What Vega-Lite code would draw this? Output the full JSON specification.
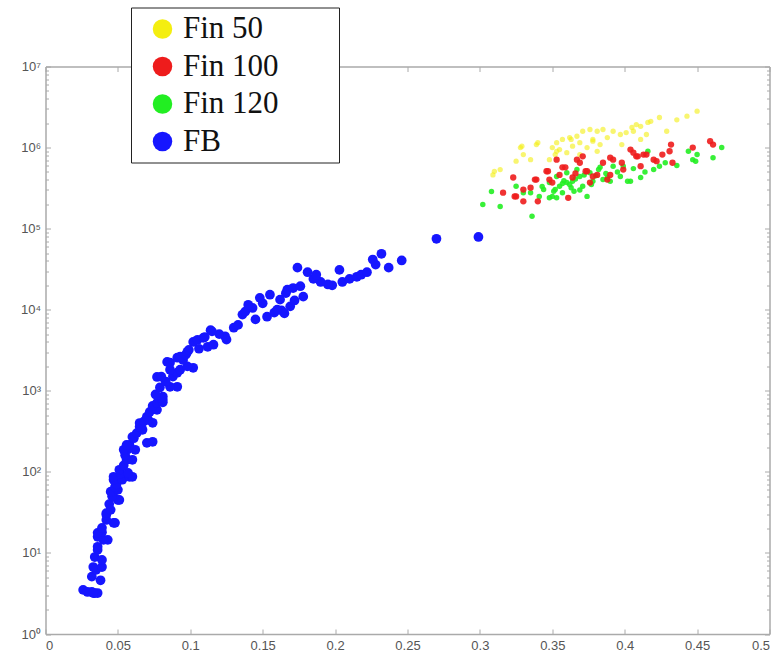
{
  "$schema": "https://vega.github.io/schema/vega-lite/v6.json",
  "autosize": {"type": "none"},
  "padding": {"left": 45.5, "top": 66.5, "right": 12.5, "bottom": 24},
  "width": 724,
  "height": 567.5,
  "background": "white",
  "config": {"view": {"stroke": null}},
  "datasets": {
    "pts": [
      {"s":"Fin 50","x":0.450,"y":2810000},{"s":"Fin 50","x":0.443,"y":2440000},{"s":"Fin 50","x":0.429,"y":1590000},{"s":"Fin 50","x":0.424,"y":2350000},{"s":"Fin 50","x":0.416,"y":2040000},{"s":"Fin 50","x":0.408,"y":1920000},{"s":"Fin 50","x":0.405,"y":1770000},{"s":"Fin 50","x":0.401,"y":1530000},{"s":"Fin 50","x":0.397,"y":1450000},{"s":"Fin 50","x":0.392,"y":1590000},{"s":"Fin 50","x":0.385,"y":1670000},{"s":"Fin 50","x":0.381,"y":1590000},{"s":"Fin 50","x":0.376,"y":1670000},{"s":"Fin 50","x":0.371,"y":1590000},{"s":"Fin 50","x":0.367,"y":1380000},{"s":"Fin 50","x":0.362,"y":1330000},{"s":"Fin 50","x":0.357,"y":1260000},{"s":"Fin 50","x":0.353,"y":1150000},{"s":"Fin 50","x":0.350,"y":1000000},{"s":"Fin 50","x":0.369,"y":1150000},{"s":"Fin 50","x":0.378,"y":1260000},{"s":"Fin 50","x":0.388,"y":1330000},{"s":"Fin 50","x":0.383,"y":1090000},{"s":"Fin 50","x":0.374,"y":1000000},{"s":"Fin 50","x":0.364,"y":1040000},{"s":"Fin 50","x":0.355,"y":945000},{"s":"Fin 50","x":0.352,"y":820000},{"s":"Fin 50","x":0.360,"y":866000},{"s":"Fin 50","x":0.369,"y":820000},{"s":"Fin 50","x":0.339,"y":1090000},{"s":"Fin 50","x":0.328,"y":1000000},{"s":"Fin 50","x":0.330,"y":820000},{"s":"Fin 50","x":0.325,"y":680000},{"s":"Fin 50","x":0.314,"y":535000},{"s":"Fin 50","x":0.309,"y":460000},{"s":"Fin 50","x":0.348,"y":710000},{"s":"Fin 50","x":0.406,"y":1590000},{"s":"Fin 50","x":0.411,"y":1260000},{"s":"Fin 50","x":0.398,"y":1090000},{"s":"Fin 50","x":0.381,"y":900000},{"s":"Fin 50","x":0.418,"y":2110000},{"s":"Fin 50","x":0.411,"y":1830000},{"s":"Fin 50","x":0.415,"y":1450000},{"s":"Fin 50","x":0.310,"y":510000},{"s":"Fin 50","x":0.329,"y":1040000},{"s":"Fin 50","x":0.340,"y":1150000},{"s":"Fin 50","x":0.353,"y":900000},{"s":"Fin 50","x":0.335,"y":710000},{"s":"Fin 50","x":0.378,"y":1200000},{"s":"Fin 50","x":0.363,"y":1260000},{"s":"Fin 50","x":0.436,"y":2200000},
      {"s":"Fin 120","x":0.467,"y":1000000},{"s":"Fin 120","x":0.461,"y":750000},{"s":"Fin 120","x":0.450,"y":820000},{"s":"Fin 120","x":0.444,"y":900000},{"s":"Fin 120","x":0.447,"y":710000},{"s":"Fin 120","x":0.449,"y":680000},{"s":"Fin 120","x":0.411,"y":427000},{"s":"Fin 120","x":0.404,"y":384000},{"s":"Fin 120","x":0.397,"y":440000},{"s":"Fin 120","x":0.388,"y":427000},{"s":"Fin 120","x":0.383,"y":570000},{"s":"Fin 120","x":0.376,"y":490000},{"s":"Fin 120","x":0.369,"y":440000},{"s":"Fin 120","x":0.364,"y":384000},{"s":"Fin 120","x":0.360,"y":370000},{"s":"Fin 120","x":0.355,"y":333000},{"s":"Fin 120","x":0.352,"y":303000},{"s":"Fin 120","x":0.350,"y":250000},{"s":"Fin 120","x":0.357,"y":278000},{"s":"Fin 120","x":0.363,"y":320000},{"s":"Fin 120","x":0.371,"y":333000},{"s":"Fin 120","x":0.378,"y":384000},{"s":"Fin 120","x":0.374,"y":250000},{"s":"Fin 120","x":0.344,"y":303000},{"s":"Fin 120","x":0.341,"y":250000},{"s":"Fin 120","x":0.335,"y":278000},{"s":"Fin 120","x":0.308,"y":288000},{"s":"Fin 120","x":0.302,"y":198000},{"s":"Fin 120","x":0.314,"y":188000},{"s":"Fin 120","x":0.336,"y":142000},{"s":"Fin 120","x":0.325,"y":333000},{"s":"Fin 120","x":0.416,"y":900000},{"s":"Fin 120","x":0.420,"y":535000},{"s":"Fin 120","x":0.424,"y":590000},{"s":"Fin 120","x":0.399,"y":590000},{"s":"Fin 120","x":0.392,"y":590000},{"s":"Fin 120","x":0.353,"y":440000},{"s":"Fin 120","x":0.348,"y":370000},{"s":"Fin 120","x":0.367,"y":535000},{"s":"Fin 120","x":0.360,"y":490000},{"s":"Fin 120","x":0.402,"y":384000},{"s":"Fin 120","x":0.385,"y":403000},{"s":"Fin 120","x":0.390,"y":384000},{"s":"Fin 120","x":0.348,"y":240000},{"s":"Fin 120","x":0.353,"y":240000},{"s":"Fin 120","x":0.382,"y":535000},{"s":"Fin 120","x":0.330,"y":278000},{"s":"Fin 120","x":0.343,"y":330000},{"s":"Fin 120","x":0.357,"y":360000},{"s":"Fin 120","x":0.366,"y":410000},{"s":"Fin 120","x":0.372,"y":460000},{"s":"Fin 120","x":0.380,"y":450000},{"s":"Fin 120","x":0.395,"y":500000},{"s":"Fin 120","x":0.406,"y":550000},{"s":"Fin 120","x":0.414,"y":500000},{"s":"Fin 120","x":0.428,"y":650000},{"s":"Fin 120","x":0.436,"y":600000},{"s":"Fin 120","x":0.365,"y":290000},{"s":"Fin 120","x":0.358,"y":390000},{"s":"Fin 120","x":0.351,"y":290000},{"s":"Fin 120","x":0.369,"y":300000},{"s":"Fin 120","x":0.377,"y":350000},{"s":"Fin 120","x":0.387,"y":480000},{"s":"Fin 120","x":0.362,"y":350000},
      {"s":"Fin 100","x":0.459,"y":1200000},{"s":"Fin 100","x":0.461,"y":1090000},{"s":"Fin 100","x":0.447,"y":1000000},{"s":"Fin 100","x":0.432,"y":1090000},{"s":"Fin 100","x":0.431,"y":900000},{"s":"Fin 100","x":0.426,"y":820000},{"s":"Fin 100","x":0.433,"y":650000},{"s":"Fin 100","x":0.420,"y":710000},{"s":"Fin 100","x":0.413,"y":820000},{"s":"Fin 100","x":0.408,"y":780000},{"s":"Fin 100","x":0.404,"y":945000},{"s":"Fin 100","x":0.406,"y":866000},{"s":"Fin 100","x":0.409,"y":780000},{"s":"Fin 100","x":0.415,"y":820000},{"s":"Fin 100","x":0.392,"y":710000},{"s":"Fin 100","x":0.390,"y":750000},{"s":"Fin 100","x":0.371,"y":780000},{"s":"Fin 100","x":0.367,"y":710000},{"s":"Fin 100","x":0.353,"y":710000},{"s":"Fin 100","x":0.357,"y":570000},{"s":"Fin 100","x":0.346,"y":510000},{"s":"Fin 100","x":0.339,"y":403000},{"s":"Fin 100","x":0.374,"y":510000},{"s":"Fin 100","x":0.381,"y":460000},{"s":"Fin 100","x":0.364,"y":427000},{"s":"Fin 100","x":0.335,"y":320000},{"s":"Fin 100","x":0.323,"y":427000},{"s":"Fin 100","x":0.316,"y":278000},{"s":"Fin 100","x":0.324,"y":250000},{"s":"Fin 100","x":0.330,"y":217000},{"s":"Fin 100","x":0.340,"y":217000},{"s":"Fin 100","x":0.361,"y":240000},{"s":"Fin 100","x":0.376,"y":370000},{"s":"Fin 100","x":0.388,"y":403000},{"s":"Fin 100","x":0.399,"y":535000},{"s":"Fin 100","x":0.411,"y":590000},{"s":"Fin 100","x":0.422,"y":680000},{"s":"Fin 100","x":0.390,"y":460000},{"s":"Fin 100","x":0.348,"y":403000},{"s":"Fin 100","x":0.338,"y":403000},{"s":"Fin 100","x":0.347,"y":510000},{"s":"Fin 100","x":0.359,"y":570000},{"s":"Fin 100","x":0.373,"y":510000},{"s":"Fin 100","x":0.378,"y":440000},{"s":"Fin 100","x":0.350,"y":370000},{"s":"Fin 100","x":0.325,"y":250000},{"s":"Fin 100","x":0.330,"y":303000},{"s":"Fin 100","x":0.369,"y":650000},{"s":"Fin 100","x":0.355,"y":460000},{"s":"Fin 100","x":0.398,"y":650000},{"s":"Fin 100","x":0.385,"y":650000},{"s":"Fin 100","x":0.366,"y":480000},
      {"s":"FB","x":0.026,"y":3.5},{"s":"FB","x":0.032,"y":3.3},{"s":"FB","x":0.034,"y":3.2},{"s":"FB","x":0.036,"y":3.2},{"s":"FB","x":0.029,"y":3.3},{"s":"FB","x":0.033,"y":3.2},{"s":"FB","x":0.038,"y":4.6},{"s":"FB","x":0.032,"y":5.1},{"s":"FB","x":0.035,"y":6.2},{"s":"FB","x":0.033,"y":6.7},{"s":"FB","x":0.039,"y":6.7},{"s":"FB","x":0.034,"y":8.9},{"s":"FB","x":0.039,"y":8.2},{"s":"FB","x":0.036,"y":10.9},{"s":"FB","x":0.036,"y":11.9},{"s":"FB","x":0.043,"y":14.5},{"s":"FB","x":0.040,"y":14.5},{"s":"FB","x":0.036,"y":15.8},{"s":"FB","x":0.039,"y":18},{"s":"FB","x":0.036,"y":17.7},{"s":"FB","x":0.039,"y":20.4},{"s":"FB","x":0.047,"y":23.5},{"s":"FB","x":0.048,"y":23.5},{"s":"FB","x":0.042,"y":25.5},{"s":"FB","x":0.042,"y":29.5},{"s":"FB","x":0.042,"y":31},{"s":"FB","x":0.045,"y":34},{"s":"FB","x":0.044,"y":40},{"s":"FB","x":0.051,"y":45},{"s":"FB","x":0.050,"y":45},{"s":"FB","x":0.047,"y":49},{"s":"FB","x":0.046,"y":50},{"s":"FB","x":0.045,"y":57},{"s":"FB","x":0.050,"y":60},{"s":"FB","x":0.048,"y":65},{"s":"FB","x":0.049,"y":70},{"s":"FB","x":0.047,"y":80},{"s":"FB","x":0.053,"y":80},{"s":"FB","x":0.058,"y":87},{"s":"FB","x":0.047,"y":87},{"s":"FB","x":0.060,"y":87},{"s":"FB","x":0.052,"y":95},{"s":"FB","x":0.057,"y":97},{"s":"FB","x":0.051,"y":106},{"s":"FB","x":0.054,"y":120},{"s":"FB","x":0.056,"y":141},{"s":"FB","x":0.060,"y":141},{"s":"FB","x":0.055,"y":160},{"s":"FB","x":0.062,"y":187},{"s":"FB","x":0.057,"y":190},{"s":"FB","x":0.054,"y":187},{"s":"FB","x":0.058,"y":215},{"s":"FB","x":0.056,"y":215},{"s":"FB","x":0.070,"y":228},{"s":"FB","x":0.074,"y":235},{"s":"FB","x":0.061,"y":260},{"s":"FB","x":0.060,"y":270},{"s":"FB","x":0.063,"y":300},{"s":"FB","x":0.067,"y":330},{"s":"FB","x":0.065,"y":359},{"s":"FB","x":0.066,"y":370},{"s":"FB","x":0.074,"y":403},{"s":"FB","x":0.065,"y":400},{"s":"FB","x":0.068,"y":420},{"s":"FB","x":0.071,"y":438},{"s":"FB","x":0.070,"y":480},{"s":"FB","x":0.072,"y":550},{"s":"FB","x":0.077,"y":582},{"s":"FB","x":0.074,"y":650},{"s":"FB","x":0.077,"y":710},{"s":"FB","x":0.081,"y":720},{"s":"FB","x":0.081,"y":774},{"s":"FB","x":0.081,"y":850},{"s":"FB","x":0.076,"y":900},{"s":"FB","x":0.079,"y":1100},{"s":"FB","x":0.091,"y":1120},{"s":"FB","x":0.086,"y":1120},{"s":"FB","x":0.083,"y":1300},{"s":"FB","x":0.077,"y":1480},{"s":"FB","x":0.080,"y":1490},{"s":"FB","x":0.088,"y":1500},{"s":"FB","x":0.091,"y":1670},{"s":"FB","x":0.086,"y":1820},{"s":"FB","x":0.093,"y":1820},{"s":"FB","x":0.102,"y":1920},{"s":"FB","x":0.098,"y":2000},{"s":"FB","x":0.086,"y":2220},{"s":"FB","x":0.084,"y":2270},{"s":"FB","x":0.095,"y":2400},{"s":"FB","x":0.091,"y":2560},{"s":"FB","x":0.093,"y":2630},{"s":"FB","x":0.097,"y":2800},{"s":"FB","x":0.098,"y":3030},{"s":"FB","x":0.099,"y":3200},{"s":"FB","x":0.106,"y":3300},{"s":"FB","x":0.112,"y":3490},{"s":"FB","x":0.116,"y":3700},{"s":"FB","x":0.102,"y":4000},{"s":"FB","x":0.105,"y":4260},{"s":"FB","x":0.125,"y":4270},{"s":"FB","x":0.109,"y":4500},{"s":"FB","x":0.110,"y":4600},{"s":"FB","x":0.124,"y":4700},{"s":"FB","x":0.120,"y":5000},{"s":"FB","x":0.114,"y":5600},{"s":"FB","x":0.115,"y":5400},{"s":"FB","x":0.130,"y":6000},{"s":"FB","x":0.133,"y":6500},{"s":"FB","x":0.145,"y":7600},{"s":"FB","x":0.153,"y":8200},{"s":"FB","x":0.136,"y":8700},{"s":"FB","x":0.165,"y":9000},{"s":"FB","x":0.158,"y":9200},{"s":"FB","x":0.138,"y":9500},{"s":"FB","x":0.163,"y":9800},{"s":"FB","x":0.160,"y":10000},{"s":"FB","x":0.143,"y":10500},{"s":"FB","x":0.169,"y":11000},{"s":"FB","x":0.140,"y":11500},{"s":"FB","x":0.150,"y":12000},{"s":"FB","x":0.172,"y":13000},{"s":"FB","x":0.162,"y":13300},{"s":"FB","x":0.148,"y":14000},{"s":"FB","x":0.178,"y":14500},{"s":"FB","x":0.155,"y":15300},{"s":"FB","x":0.166,"y":16000},{"s":"FB","x":0.167,"y":17700},{"s":"FB","x":0.171,"y":18500},{"s":"FB","x":0.176,"y":19500},{"s":"FB","x":0.198,"y":20000},{"s":"FB","x":0.195,"y":20500},{"s":"FB","x":0.205,"y":22000},{"s":"FB","x":0.190,"y":22000},{"s":"FB","x":0.185,"y":24000},{"s":"FB","x":0.210,"y":24000},{"s":"FB","x":0.215,"y":25500},{"s":"FB","x":0.187,"y":27000},{"s":"FB","x":0.218,"y":27000},{"s":"FB","x":0.181,"y":29000},{"s":"FB","x":0.222,"y":29000},{"s":"FB","x":0.203,"y":31000},{"s":"FB","x":0.174,"y":33000},{"s":"FB","x":0.237,"y":33000},{"s":"FB","x":0.228,"y":36000},{"s":"FB","x":0.246,"y":40500},{"s":"FB","x":0.226,"y":41600},{"s":"FB","x":0.232,"y":49000},{"s":"FB","x":0.270,"y":75000},{"s":"FB","x":0.299,"y":79000}
    ]
  },
  "data": {"name": "pts"},
  "resolve": {"axis": {"x": "independent", "y": "independent"}},
  "layer": [
    {
      "layer": [
        {
          "transform": [{"filter": "datum.s === 'Fin 50'"}],
          "mark": {"type": "point", "filled": true, "shape": "circle", "strokeWidth": 0, "size": 28, "opacity": 0.6}
        },
        {
          "transform": [{"filter": "datum.s === 'Fin 120'"}],
          "mark": {"type": "point", "filled": true, "shape": "circle", "strokeWidth": 0, "size": 30, "opacity": 0.9}
        },
        {
          "transform": [{"filter": "datum.s === 'Fin 100'"}],
          "mark": {"type": "point", "filled": true, "shape": "circle", "strokeWidth": 0, "size": 40, "opacity": 0.9}
        },
        {
          "transform": [{"filter": "datum.s === 'FB'"}],
          "mark": {"type": "point", "filled": true, "shape": "circle", "strokeWidth": 0, "size": 95, "opacity": 1}
        }
      ],
      "encoding": {
        "x": {
          "field": "x", "type": "quantitative",
          "scale": {"domain": [0, 0.5], "nice": false, "zero": false},
          "axis": {
            "orient": "bottom", "title": null, "grid": false,
            "values": [0, 0.05, 0.1, 0.15, 0.2, 0.25, 0.3, 0.35, 0.4, 0.45, 0.5],
            "labelExpr": "'' + datum.value",
            "labelFont": "Liberation Sans", "labelFontSize": 13, "labelColor": "#555",
            "domainColor": "#aaa", "domainWidth": 1.5, "tickColor": "#aaa", "tickWidth": 1,
            "tickSize": -5, "labelPadding": 10, "labelOverlap": false
          }
        },
        "y": {
          "field": "y", "type": "quantitative",
          "scale": {"type": "log", "domain": [1, 10000000], "nice": false},
          "axis": {
            "orient": "left", "title": null, "grid": false,
            "values": [1,2,3,4,5,6,7,8,9,10,20,30,40,50,60,70,80,90,100,200,300,400,500,600,700,800,900,1000,2000,3000,4000,5000,6000,7000,8000,9000,10000,20000,30000,40000,50000,60000,70000,80000,90000,100000,200000,300000,400000,500000,600000,700000,800000,900000,1000000,2000000,3000000,4000000,5000000,6000000,7000000,8000000,9000000,10000000],
            "labelExpr": "abs(log(datum.value)/LN10 - round(log(datum.value)/LN10)) < 0.000001 ? '10' + ['⁰','¹','²','³','⁴','⁵','⁶','⁷'][round(log(datum.value)/LN10)] : ''",
            "labelFont": "Liberation Sans", "labelFontSize": 13, "labelColor": "#555",
            "domainColor": "#aaa", "domainWidth": 1.5, "tickColor": "#aaa", "tickWidth": 1,
            "tickSize": {"condition": {"test": "abs(log(datum.value)/LN10 - round(log(datum.value)/LN10)) < 0.000001", "value": -5}, "value": -3},
            "labelPadding": 10, "labelOverlap": false
          }
        },
        "color": {
          "field": "s", "type": "nominal",
          "scale": {"domain": ["Fin 50", "Fin 100", "Fin 120", "FB"], "range": ["#f4ee10", "#ee1c1c", "#22ee22", "#1616ff"]},
          "legend": {
            "orient": "none", "legendX": 85.5, "legendY": -59, "title": null,
            "labelFont": "Liberation Serif", "labelFontSize": 31, "labelColor": "#111",
            "labelExpr": "datum.label + '\u00a0\u00a0\u00a0\u00a0\u00a0\u00a0\u00a0\u200b'",
            "symbolType": "circle", "symbolSize": 380, "symbolStrokeWidth": 0, "symbolOpacity": 1,
            "strokeColor": "#222", "fillColor": "white", "padding": 6,
            "rowPadding": 5.5, "labelOffset": 5, "symbolOffset": 10, "labelLimit": 400
          }
        }
      }
    },
    {
      "mark": {"type": "point", "opacity": 0},
      "encoding": {
        "x": {
          "field": "x", "type": "quantitative",
          "axis": {
            "orient": "top", "title": null, "grid": false, "labels": false,
            "values": [0, 0.05, 0.1, 0.15, 0.2, 0.25, 0.3, 0.35, 0.4, 0.45, 0.5],
            "domainColor": "#aaa", "domainWidth": 1.5, "tickColor": "#aaa", "tickSize": -5
          }
        },
        "y": {
          "field": "y", "type": "quantitative",
          "axis": {
            "orient": "right", "title": null, "grid": false, "labels": false,
            "values": [1,2,3,4,5,6,7,8,9,10,20,30,40,50,60,70,80,90,100,200,300,400,500,600,700,800,900,1000,2000,3000,4000,5000,6000,7000,8000,9000,10000,20000,30000,40000,50000,60000,70000,80000,90000,100000,200000,300000,400000,500000,600000,700000,800000,900000,1000000,2000000,3000000,4000000,5000000,6000000,7000000,8000000,9000000,10000000],
            "domainColor": "#aaa", "domainWidth": 1.5, "tickColor": "#aaa",
            "tickSize": {"condition": {"test": "abs(log(datum.value)/LN10 - round(log(datum.value)/LN10)) < 0.000001", "value": -5}, "value": -3}
          }
        }
      }
    }
  ]
}
